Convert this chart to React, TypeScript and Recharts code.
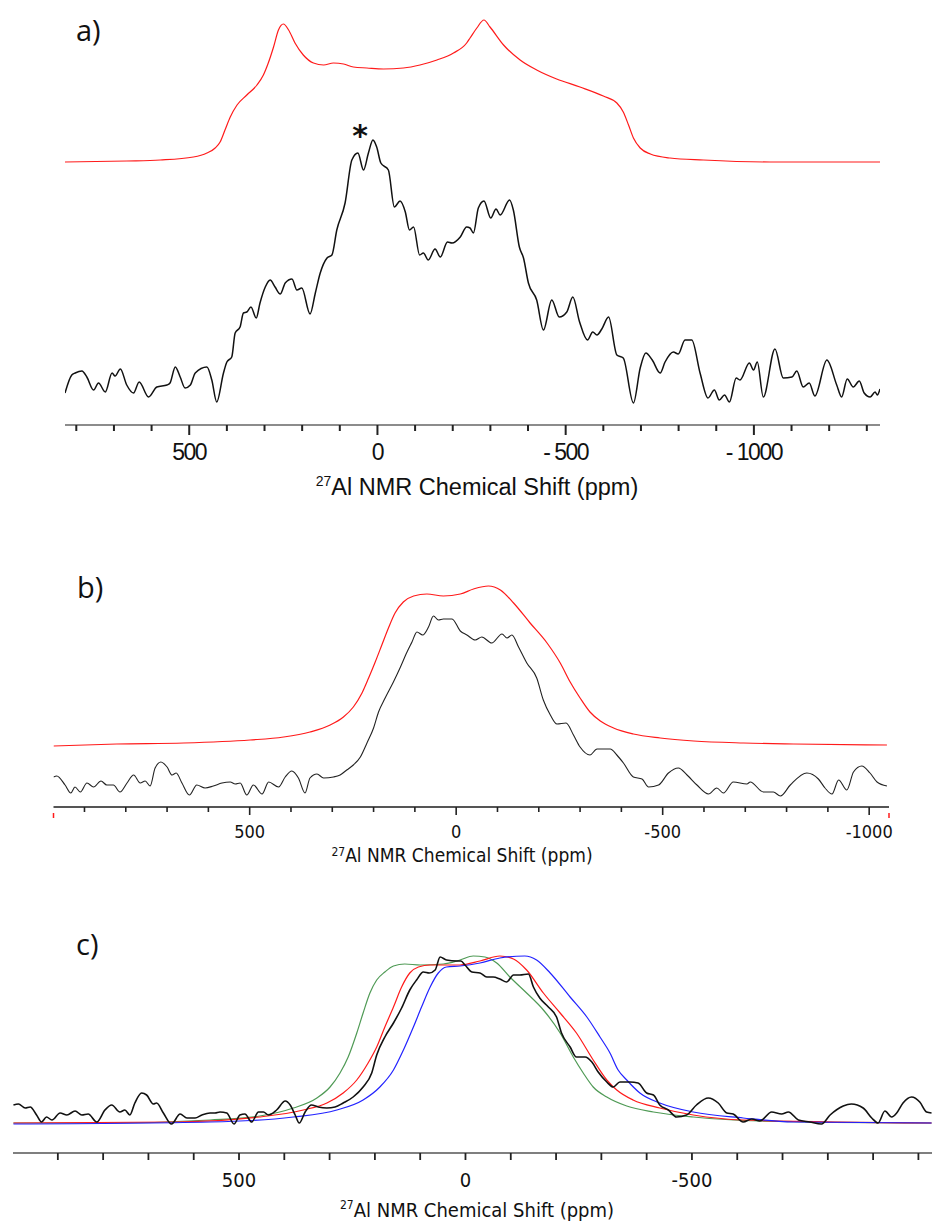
import React from 'react';
import { LineChart, Line, XAxis, YAxis } from 'recharts';

// ---- panel a) : simulated (red) and measured (black) spectra ----
const simA_ppm = [830, 666, 577, 489, 453, 431, 418, 405, 391, 373, 347, 320, 303, 290, 276, 263, 250, 236, 219, 197, 170, 143, 117, 90, 64, 28, -16, -69, -113, -158, -202, -237, -246, -264, -283, -299, -335, -379, -423, -476, -538, -600, -636, -653, -667, -680, -698, -725, -777, -866, -1043, -1335];
const simA_int = [263, 264, 265, 268, 272, 277, 283, 295, 308, 320, 330, 340, 350, 362, 378, 395, 401, 395, 382, 370, 362, 360, 362, 361, 358, 357, 356, 357, 360, 365, 372, 382, 387, 397, 405, 398, 380, 365, 355, 346, 338, 329, 322, 313, 300, 287, 277, 271, 267, 265, 263, 263];

const expA_ppm = [830, 812, 803, 785, 772, 754, 741, 723, 705, 697, 683, 666, 648, 633, 608, 586, 559, 551, 537, 524, 511, 497, 484, 453, 440, 427, 409, 400, 387, 378, 365, 356, 347, 336, 322, 312, 298, 285, 272, 258, 245, 227, 214, 201, 179, 165, 152, 134, 121, 108, 86, 68, 52, 37, 24, 12, 2, -9, -29, -45, -60, -74, -85, -96, -112, -122, -135, -153, -167, -186, -198, -220, -237, -246, -255, -268, -283, -301, -315, -326, -351, -361, -377, -388, -401, -423, -441, -463, -483, -503, -519, -537, -558, -572, -583, -596, -614, -636, -653, -680, -698, -713, -730, -751, -764, -786, -799, -817, -835, -857, -878, -895, -908, -922, -935, -953, -963, -988, -999, -1009, -1025, -1056, -1078, -1101, -1114, -1131, -1147, -1162, -1194, -1220, -1233, -1248, -1264, -1280, -1293, -1309, -1322, -1328, -1335];
const expA_int = [32, 50, 52, 54, 48, 35, 42, 33, 52, 49, 56, 40, 32, 43, 28, 38, 40, 42, 58, 48, 37, 40, 52, 58, 45, 23, 52, 63, 68, 92, 98, 112, 113, 118, 107, 122, 138, 145, 138, 131, 142, 146, 135, 137, 111, 132, 152, 167, 170, 195, 222, 265, 272, 255, 272, 285, 278, 262, 255, 218, 224, 213, 195, 198, 170, 172, 165, 176, 168, 183, 182, 188, 198, 197, 192, 217, 224, 207, 216, 210, 225, 215, 178, 167, 142, 125, 95, 125, 108, 113, 128, 103, 85, 93, 90, 96, 108, 70, 67, 22, 57, 72, 65, 52, 63, 73, 71, 85, 85, 52, 27, 35, 25, 30, 23, 47, 45, 62, 55, 63, 28, 76, 47, 48, 54, 38, 42, 29, 65, 40, 28, 46, 38, 44, 32, 28, 33, 30, 36];

const ticksA = [800, 700, 600, 500, 400, 300, 200, 100, 0, -100, -200, -300, -400, -500, -600, -700, -800, -900, -1000, -1100, -1200, -1300];
const labelsA: Record<number, string> = { 500: '500', 0: '0', [-500]: '- 500', [-1000]: '- 1000' };

// ---- panel b) ----
const simB_ppm = [975, 822, 660, 499, 418, 354, 305, 273, 249, 228, 212, 196, 180, 164, 148, 128, 103, 71, 31, -10, -42, -78, -107, -139, -179, -220, -252, -276, -300, -324, -349, -381, -429, -494, -575, -696, -817, -1043];
const simB_int = [61, 63, 64, 67, 70, 75, 82, 90, 100, 114, 129, 145, 162, 179, 194, 205, 211, 213, 211, 213, 218, 221, 217, 204, 184, 164, 144, 125, 109, 95, 86, 79, 73, 69, 66, 64, 63, 62];

const expB_ppm = [975, 967, 947, 933, 923, 910, 894, 878, 860, 846, 830, 814, 797, 781, 765, 753, 741, 729, 715, 700, 688, 678, 664, 646, 628, 608, 588, 567, 547, 535, 523, 507, 491, 470, 454, 430, 414, 398, 382, 366, 354, 337, 321, 297, 281, 265, 249, 232, 216, 200, 188, 172, 152, 136, 119, 107, 95, 81, 67, 55, 43, 31, 10, -10, -26, -46, -62, -86, -111, -123, -135, -151, -171, -195, -211, -228, -244, -266, -284, -300, -324, -341, -373, -389, -405, -429, -450, -466, -490, -514, -538, -559, -583, -611, -631, -647, -671, -704, -712, -744, -768, -785, -809, -849, -877, -893, -910, -926, -946, -962, -982, -1002, -1019, -1043];
const expB_int = [30, 31, 22, 14, 20, 15, 24, 20, 26, 22, 22, 15, 24, 32, 24, 26, 21, 39, 45, 40, 32, 34, 24, 12, 22, 19, 21, 24, 25, 23, 24, 12, 22, 13, 25, 20, 30, 36, 29, 14, 29, 33, 29, 30, 32, 37, 42, 50, 64, 79, 95, 109, 125, 139, 155, 165, 175, 172, 180, 191, 187, 188, 188, 176, 172, 167, 170, 164, 173, 169, 172, 160, 144, 129, 107, 92, 83, 84, 72, 60, 52, 58, 58, 52, 44, 30, 28, 20, 22, 34, 39, 32, 22, 13, 19, 14, 25, 23, 25, 15, 15, 11, 22, 34, 28, 19, 13, 27, 17, 35, 41, 34, 25, 21];

const ticksB = [900, 800, 700, 600, 500, 400, 300, 200, 100, 0, -100, -200, -300, -400, -500, -600, -700, -800, -900, -1000];
const labelsB: Record<number, string> = { 500: '500', 0: '0', [-500]: '-500', [-1000]: '-1000' };

// ---- panel c) : three simulations + measured ----
const greenC_ppm = [998, 785, 564, 454, 380, 328, 299, 277, 259, 240, 226, 211, 196, 178, 159, 134, 100, 49, 12, -17, -43, -69, -98, -135, -172, -209, -238, -260, -282, -312, -356, -415, -503, -650, -1029];
const greenC_int = [30, 30, 33, 37, 45, 55, 66, 80, 96, 120, 140, 160, 173, 181, 187, 189, 188, 189, 193, 197, 196, 190, 176, 160, 143, 120, 96, 80, 66, 56, 47, 41, 36, 32, 30];

const redC_ppm = [998, 638, 454, 358, 306, 270, 240, 215, 196, 178, 159, 141, 123, 104, 78, 12, -32, -76, -106, -135, -172, -209, -245, -282, -312, -334, -370, -429, -503, -613, -1029];
const redC_int = [30, 31, 36, 43, 50, 60, 73, 90, 106, 126, 146, 166, 180, 186, 188, 188, 192, 197, 194, 183, 160, 140, 120, 93, 73, 63, 53, 45, 38, 33, 30];

const blueC_ppm = [998, 564, 380, 284, 226, 189, 159, 137, 115, 97, 78, 60, 42, 12, -32, -76, -131, -157, -187, -231, -268, -297, -319, -337, -356, -385, -429, -503, -613, -724, -1029];
const blueC_int = [29, 31, 36, 43, 53, 66, 83, 103, 126, 146, 166, 180, 186, 187, 190, 195, 197, 193, 180, 156, 136, 116, 100, 83, 73, 60, 50, 41, 35, 31, 30];

const expC_ppm = [998, 987, 972, 961, 947, 936, 925, 913, 895, 880, 862, 847, 833, 814, 796, 781, 763, 752, 741, 730, 715, 704, 689, 682, 667, 649, 630, 615, 597, 582, 564, 553, 542, 527, 511, 498, 487, 472, 457, 446, 435, 417, 398, 387, 376, 367, 354, 340, 325, 306, 288, 270, 248, 226, 207, 196, 178, 159, 141, 123, 108, 93, 80, 67, 56, 42, 19, 10, 1, -14, -32, -47, -61, -76, -91, -106, -120, -139, -150, -164, -183, -201, -212, -231, -245, -264, -279, -293, -312, -326, -341, -363, -381, -400, -415, -429, -448, -466, -488, -510, -536, -558, -577, -591, -613, -632, -650, -676, -698, -713, -735, -760, -786, -805, -834, -852, -878, -897, -911, -926, -941, -952, -966, -985, -1003, -1018, -1029];
const expC_int = [48, 49, 45, 46, 38, 31, 36, 33, 40, 38, 42, 38, 39, 31, 43, 48, 41, 43, 38, 50, 60, 58, 49, 50, 40, 29, 39, 35, 35, 38, 40, 40, 41, 40, 29, 38, 39, 31, 41, 41, 38, 43, 52, 48, 38, 30, 41, 48, 46, 45, 46, 50, 56, 66, 80, 98, 116, 130, 145, 163, 173, 181, 180, 183, 196, 193, 192, 192, 188, 181, 180, 176, 176, 174, 171, 178, 178, 179, 166, 155, 146, 136, 120, 106, 96, 96, 91, 81, 71, 66, 71, 71, 70, 60, 58, 48, 43, 36, 38, 48, 55, 50, 40, 39, 31, 34, 32, 41, 39, 41, 33, 31, 29, 38, 47, 49, 45, 35, 30, 42, 36, 40, 50, 56, 51, 41, 40];

const ticksC = [900, 800, 700, 600, 500, 400, 300, 200, 100, 0, -100, -200, -300, -400, -500, -600, -700, -800, -900, -1000];
const labelsC: Record<number, string> = { 500: '500', 0: '0', [-500]: '-500' };

const rows = (ppm: number[], val: number[]) => ppm.map((x, i) => ({ x, y: val[i] }));

const NARROW = "'Liberation Sans Narrow', 'DejaVu Sans Condensed', 'Liberation Sans', Arial, sans-serif";

type TickOpts = {
  labels: Record<number, string>;
  minor: number;
  major: number;
  width: number;
  color: string;
  dy: number;
  font: string;
  size: number;
  spacing?: number;
};

const makeTick = (o: TickOpts) => (props: any) => {
  const { x, y, payload } = props;
  const v = payload.value;
  const len = v % 500 === 0 ? o.major : o.minor;
  const label = o.labels[v];
  return (
    <g>
      <line x1={x} x2={x} y1={y} y2={y + len} stroke={o.color} strokeWidth={o.width} />
      {label !== undefined && (
        <text x={x} y={y + o.dy} textAnchor="middle" fill="#111" fontFamily={o.font} fontSize={o.size} letterSpacing={o.spacing ?? 0}>
          {label}
        </text>
      )}
    </g>
  );
};

export default function App() {
  return (
    <div style={{ position: 'absolute', left: 0, top: 0, width: 932, height: 1224, background: '#fff' }}>
      {/* a) */}
      <div style={{ position: 'absolute', left: 0, top: 0 }}>
        <LineChart width={932} height={465} margin={{ top: 10, right: 52, bottom: 0, left: 65 }}>
          <XAxis
            type="number"
            dataKey="x"
            domain={[-1335, 830]}
            reversed
            allowDataOverflow
            ticks={ticksA}
            interval={0}
            height={40}
            tickSize={0}
            tickMargin={0}
            tickLine={false}
            axisLine={{ stroke: '#666', strokeWidth: 1.5 }}
            tick={makeTick({ labels: labelsA, minor: 6, major: 10, width: 2, color: '#222', dy: 35, font: "'Liberation Sans', Arial, sans-serif", size: 23, spacing: -1.5 })}
          />
          <YAxis hide type="number" domain={[0, 415]} allowDataOverflow />
          <Line data={rows(simA_ppm, simA_int)} dataKey="y" type="monotone" stroke="#ff1a1a" strokeWidth={1.2} dot={false} isAnimationActive={false} />
          <Line data={rows(expA_ppm, expA_int)} dataKey="y" type="monotone" stroke="#111" strokeWidth={1.5} dot={false} isAnimationActive={false} />
        </LineChart>
      </div>

      {/* b) */}
      <div style={{ position: 'absolute', left: 0, top: 560 }}>
        <LineChart width={932} height={287} margin={{ top: 17, right: 43, bottom: 0, left: 53.5 }}>
          <XAxis
            type="number"
            dataKey="x"
            domain={[-1048, 975]}
            reversed
            allowDataOverflow
            ticks={ticksB}
            interval={0}
            height={40}
            tickSize={0}
            tickMargin={0}
            tickLine={false}
            axisLine={{ stroke: '#555', strokeWidth: 2 }}
            tick={makeTick({ labels: labelsB, minor: 5, major: 8, width: 1.6, color: '#222', dy: 31, font: NARROW, size: 18 })}
          />
          <YAxis hide type="number" domain={[0, 230]} allowDataOverflow />
          <Line data={rows(simB_ppm, simB_int)} dataKey="y" type="monotone" stroke="#ff1a1a" strokeWidth={1.2} dot={false} isAnimationActive={false} />
          <Line data={rows(expB_ppm, expB_int)} dataKey="y" type="monotone" stroke="#222" strokeWidth={1.1} dot={false} isAnimationActive={false} />
        </LineChart>
      </div>

      {/* c) */}
      <div style={{ position: 'absolute', left: 0, top: 900 }}>
        <LineChart width={932} height={293} margin={{ top: 33, right: 0, bottom: 0, left: 13 }}>
          <XAxis
            type="number"
            dataKey="x"
            domain={[-1030, 999]}
            reversed
            allowDataOverflow
            ticks={ticksC}
            interval={0}
            height={40}
            tickSize={0}
            tickMargin={0}
            tickLine={false}
            axisLine={{ stroke: '#555', strokeWidth: 1.5 }}
            tick={makeTick({ labels: labelsC, minor: 7, major: 7, width: 1.8, color: '#222', dy: 34, font: NARROW, size: 20 })}
          />
          <YAxis hide type="number" domain={[0, 220]} allowDataOverflow />
          <Line data={rows(greenC_ppm, greenC_int)} dataKey="y" type="monotone" stroke="#4f9a55" strokeWidth={1.2} dot={false} isAnimationActive={false} />
          <Line data={rows(redC_ppm, redC_int)} dataKey="y" type="monotone" stroke="#ff1a1a" strokeWidth={1.2} dot={false} isAnimationActive={false} />
          <Line data={rows(blueC_ppm, blueC_int)} dataKey="y" type="monotone" stroke="#2222ff" strokeWidth={1.2} dot={false} isAnimationActive={false} />
          <Line data={rows(expC_ppm, expC_int)} dataKey="y" type="monotone" stroke="#111" strokeWidth={1.6} dot={false} isAnimationActive={false} />
        </LineChart>
      </div>

      {/* panel letters, asterisk and axis titles */}
      <svg width={932} height={1224} style={{ position: 'absolute', left: 0, top: 0, pointerEvents: 'none' }}>
        <g fontFamily="'Open Sans', 'Liberation Sans', sans-serif" fontSize={29} fill="#111">
          <text x={76} y={41}>a)</text>
          <text x={77} y={598}>b)</text>
          <text x={76} y={955}>c)</text>
        </g>
        <text x={360} y={146} textAnchor="middle" fontFamily="'DejaVu Sans', sans-serif" fontWeight="bold" fontSize={30} fill="#111">*</text>

        <text x={477} y={495} textAnchor="middle" fontFamily="'Liberation Sans', Arial, sans-serif" fontSize={23.5} fill="#111">
          <tspan fontSize={14} dy={-9}>27</tspan>
          <tspan dy={9}>Al NMR Chemical Shift (ppm)</tspan>
        </text>
        <text x={462} y={862} textAnchor="middle" fontFamily={NARROW} fontSize={19} fill="#111">
          <tspan fontSize={12} dy={-6}>27</tspan>
          <tspan dy={6}>Al NMR Chemical Shift (ppm)</tspan>
        </text>
        <text x={477} y={1217} textAnchor="middle" fontFamily={NARROW} fontSize={20} fill="#111">
          <tspan fontSize={12} dy={-8}>27</tspan>
          <tspan dy={8}>Al NMR Chemical Shift (ppm)</tspan>
        </text>

        <line x1={53.5} x2={53.5} y1={813} y2={818} stroke="#ff1a1a" strokeWidth={1.5} />
        <line x1={889} x2={889} y1={813} y2={818} stroke="#ff1a1a" strokeWidth={1.5} />
      </svg>
    </div>
  );
}
